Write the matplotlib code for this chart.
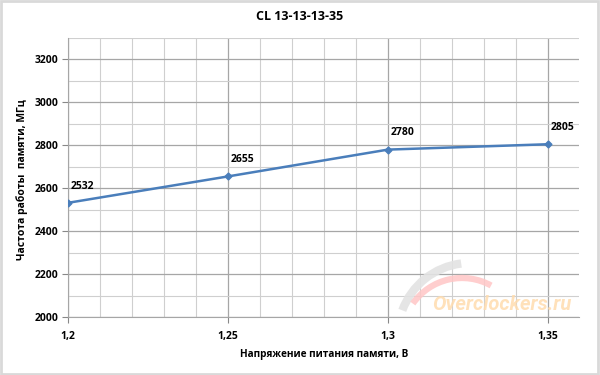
import numpy as np
import matplotlib.pyplot as plt
from matplotlib.patches import Arc, Rectangle
from matplotlib.ticker import MultipleLocator

# data
voltage = [1.2, 1.25, 1.3, 1.35]
freq = [2532, 2655, 2780, 2805]
xtick_labels = ['1,2', '1,25', '1,3', '1,35']

title = 'CL 13-13-13-35'
xlabel = 'Напряжение питания памяти, В'
ylabel = 'Частота работы  памяти, МГц'

plt.rcParams['font.family'] = ['Open Sans', 'DejaVu Sans']

fig = plt.figure(figsize=(6, 3.75), dpi=100)
ax = fig.add_axes([68/600, 1 - 317/375, (579 - 68)/600, (317 - 38)/375])

# grid
ax.set_xlim(1.2, 1.3597)
ax.set_ylim(2000, 3300)
ax.xaxis.set_major_locator(MultipleLocator(0.05))
ax.xaxis.set_minor_locator(MultipleLocator(0.01))
ax.yaxis.set_major_locator(MultipleLocator(200))
ax.yaxis.set_minor_locator(MultipleLocator(100))
ax.grid(which='major', color='#a6a6a6', lw=0.9)
ax.grid(which='minor', color='#cfcfcf', lw=0.8)
ax.set_axisbelow(True)
for s in ['top', 'right']:
    ax.spines[s].set_visible(False)
ax.spines['left'].set_color('#a6a6a6')
ax.spines['bottom'].set_color('#a6a6a6')
ax.tick_params(which='major', length=4, color='#888888', pad=3)
ax.tick_params(which='minor', length=0)
ax.set_yticks([2000, 2200, 2400, 2600, 2800, 3000, 3200])
ax.set_xticks(voltage)
ax.set_xticklabels(xtick_labels)
for lab in ax.get_xticklabels() + ax.get_yticklabels():
    lab.set_fontweight('bold')
    lab.set_fontsize(7.5)
ax.tick_params(axis='x', pad=6)

# watermark (overclockers.ru logo)
ax_in = fig.dpi_scale_trans
fig.patches.append(Arc((4.70, 0.40), 1.44, 1.44, theta1=97, theta2=160, color='#e3e3e3', lw=6,
                       transform=ax_in, figure=fig, alpha=0.9))
fig.patches.append(Arc((4.62, 0.37), 1.20, 1.20, theta1=61, theta2=145, color='#ffc6c6', lw=4.5,
                       transform=ax_in, figure=fig, alpha=0.85))
fig.text(432/600, 1 - 304/375, 'Overclockers.ru', fontsize=14.5, fontweight='bold', style='italic',
         color='#ffdcae', alpha=0.85, family='Roboto', va='center')

# series
ax.plot(voltage, freq, color='#4a7ebb', lw=1.8, marker='D', ms=3.5, zorder=3)
for x, y in zip(voltage, freq):
    ax.annotate(str(y), (x, y), xytext=(2, 8), textcoords='offset points',
                fontsize=7.5, fontweight='bold', ha='left', va='bottom')

fig.text(300/600, 1 - 17/375, title, fontsize=9, fontweight='bold', ha='center', va='center')
fig.text(324/600, 1 - 355/375, xlabel, fontsize=7.2, fontweight='bold', ha='center', va='center')
fig.text(22/600, 1 - 180/375, ylabel, fontsize=7.5, fontweight='bold', ha='center', va='center',
         rotation=90)

# outer frame
fig.patches.append(Rectangle((0.002, 0.003), 0.994, 0.994, transform=fig.transFigure, fill=False,
                             edgecolor='#d9d9d9', lw=2, figure=fig))

fig.savefig('out.png', dpi=100)
